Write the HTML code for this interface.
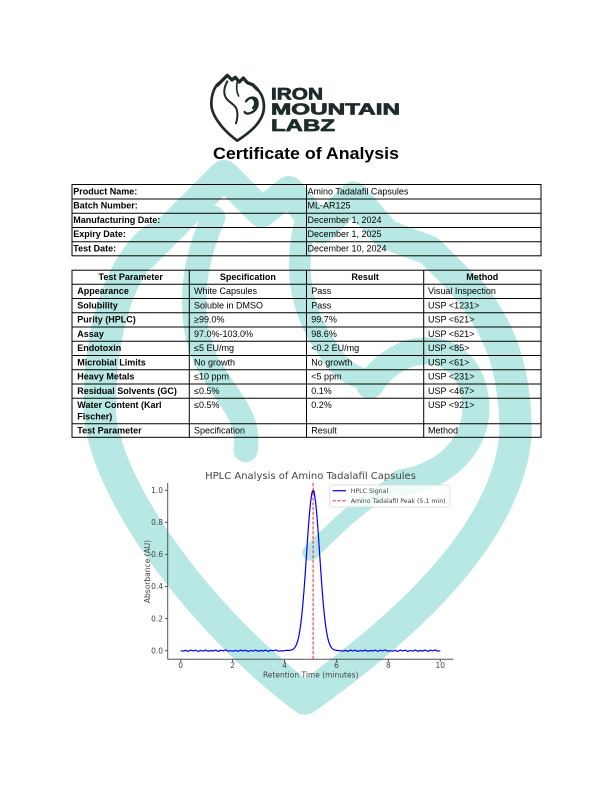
<!DOCTYPE html>
<html>
<head>
<meta charset="utf-8">
<style>
  html,body{margin:0;padding:0;background:#fff;}
  svg{display:block;}
  .t{font-family:"Liberation Sans",Arial,sans-serif;font-size:9px;fill:#000;}
  .b{font-weight:bold;}
  .c{font-family:"DejaVu Sans","Liberation Sans",sans-serif;fill:#444;}
</style>
</head>
<body>
<svg width="612" height="792" viewBox="0 0 612 792" xmlns="http://www.w3.org/2000/svg">
  <rect width="612" height="792" fill="#fff"/>

  <!-- Watermark (large icon) -->
  <g transform="translate(35,131.5) scale(2.7)" fill="none" stroke="#b8e8e3" stroke-linecap="round" stroke-linejoin="round">
    <path d="M44,40 C32,50 24,72 24,102 C24,130 60,180 100,210 C135,185 175,150 178,112 C178,88 172,72 160,58" stroke-width="12"/>
    <path d="M40,46 L70,16 L84,30 L94,22 L106,36 L118,24 L130,38 L146,44 L160,58" stroke-width="11"/>
    <path d="M66,32 C58,50 56,70 64,86 C72,100 80,106 78,118" stroke-width="9"/>
    <path d="M100,34 C96,50 98,66 108,80 C114,90 120,92 126,92" stroke-width="8"/>
    <path d="M124,94 C134,78 156,76 162,94 C168,114 152,128 136,130" stroke-width="10"/>
    <path d="M136,130 C124,134 112,146 102,156" stroke-width="6"/>
  </g>

  <!-- Logo icon -->
  <g transform="translate(204,70) scale(0.3333)" fill="none" stroke="#1f2a2a" stroke-linecap="round" stroke-linejoin="round">
    <path d="M44,40 C32,50 22,72 22,102 C22,135 55,180 100,212 C140,186 178,155 180,112 C180,88 174,72 160,58" stroke-width="8"/>
    <path d="M40,46 L70,16 L84,30 L94,22 L106,36 L118,24 L130,38 L146,44 L160,58" stroke-width="10"/>
    <path d="M70,34 C60,52 58,70 66,84 C76,98 94,104 98,118 C102,132 100,148 96,160" stroke-width="6"/>
    <path d="M100,36 C96,52 98,66 104,78" stroke-width="5"/>
    <path d="M126,94 C136,80 156,78 160,94 C164,112 152,126 136,130 C128,132 124,130 122,126" stroke-width="7"/>
    <path d="M148,86 C156,92 156,106 148,114" stroke-width="8"/>
  </g>

  <!-- Logo text -->
  <g font-family="'Liberation Sans',Arial,sans-serif" font-weight="bold" fill="#1f2a2a" stroke="#1f2a2a" stroke-width="0.7">
    <text x="271" y="99.3" font-size="16.5" textLength="52" lengthAdjust="spacingAndGlyphs">IRON</text>
    <text x="271" y="114.5" font-size="15.5" textLength="129" lengthAdjust="spacingAndGlyphs">MOUNTAIN</text>
    <text x="271" y="131" font-size="17" textLength="64" lengthAdjust="spacingAndGlyphs">LABZ</text>
  </g>

  <!-- Title -->
  <text x="306" y="159" text-anchor="middle" font-family="'Liberation Sans',Arial,sans-serif" font-weight="bold" font-size="17" fill="#000" textLength="186" lengthAdjust="spacingAndGlyphs">Certificate of Analysis</text>

  <!-- Table 1 -->
  <g stroke="#000" stroke-width="1" fill="none">
    <rect x="72" y="184.5" width="469" height="71.3"/>
    <line x1="72" y1="199" x2="541" y2="199"/>
    <line x1="72" y1="213.3" x2="541" y2="213.3"/>
    <line x1="72" y1="227.5" x2="541" y2="227.5"/>
    <line x1="72" y1="241.7" x2="541" y2="241.7"/>
    <line x1="306.5" y1="184.5" x2="306.5" y2="255.8"/>
  </g>
  <g class="t">
    <text class="t b" x="73.3" y="194.3">Product Name:</text>
    <text class="t b" x="73.3" y="208.6">Batch Number:</text>
    <text class="t b" x="73.3" y="222.9">Manufacturing Date:</text>
    <text class="t b" x="73.3" y="237.1">Expiry Date:</text>
    <text class="t b" x="73.3" y="251.4">Test Date:</text>
    <text class="t" x="307.5" y="194.3">Amino Tadalafil Capsules</text>
    <text class="t" x="307.5" y="208.6">ML-AR125</text>
    <text class="t" x="307.5" y="222.9">December 1, 2024</text>
    <text class="t" x="307.5" y="237.1">December 1, 2025</text>
    <text class="t" x="307.5" y="251.4">December 10, 2024</text>
  </g>

  <!-- Table 2 -->
  <g stroke="#000" stroke-width="1" fill="none">
    <rect x="72" y="270.2" width="469" height="167.1"/>
    <line x1="72" y1="284.2" x2="541" y2="284.2"/>
    <line x1="72" y1="298.5" x2="541" y2="298.5"/>
    <line x1="72" y1="312.7" x2="541" y2="312.7"/>
    <line x1="72" y1="327" x2="541" y2="327"/>
    <line x1="72" y1="341.2" x2="541" y2="341.2"/>
    <line x1="72" y1="355.5" x2="541" y2="355.5"/>
    <line x1="72" y1="369.8" x2="541" y2="369.8"/>
    <line x1="72" y1="384" x2="541" y2="384"/>
    <line x1="72" y1="398.3" x2="541" y2="398.3"/>
    <line x1="72" y1="423.8" x2="541" y2="423.8"/>
    <line x1="189.3" y1="270.2" x2="189.3" y2="437.3"/>
    <line x1="306.5" y1="270.2" x2="306.5" y2="437.3"/>
    <line x1="423.7" y1="270.2" x2="423.7" y2="437.3"/>
  </g>
  <g>
    <text class="t b" x="130.7" y="280" text-anchor="middle">Test Parameter</text>
    <text class="t b" x="247.9" y="280" text-anchor="middle">Specification</text>
    <text class="t b" x="365.1" y="280" text-anchor="middle">Result</text>
    <text class="t b" x="482.3" y="280" text-anchor="middle">Method</text>

    <text class="t b" x="77.3" y="294">Appearance</text>
    <text class="t" x="194" y="294">White Capsules</text>
    <text class="t" x="311.3" y="294">Pass</text>
    <text class="t" x="428" y="294">Visual Inspection</text>

    <text class="t b" x="77.3" y="308.3">Solubility</text>
    <text class="t" x="194" y="308.3">Soluble in DMSO</text>
    <text class="t" x="311.3" y="308.3">Pass</text>
    <text class="t" x="428" y="308.3">USP &lt;1231&gt;</text>

    <text class="t b" x="77.3" y="322.5">Purity (HPLC)</text>
    <text class="t" x="194" y="322.5">≥99.0%</text>
    <text class="t" x="311.3" y="322.5">99.7%</text>
    <text class="t" x="428" y="322.5">USP &lt;621&gt;</text>

    <text class="t b" x="77.3" y="336.8">Assay</text>
    <text class="t" x="194" y="336.8">97.0%-103.0%</text>
    <text class="t" x="311.3" y="336.8">98.6%</text>
    <text class="t" x="428" y="336.8">USP &lt;621&gt;</text>

    <text class="t b" x="77.3" y="351">Endotoxin</text>
    <text class="t" x="194" y="351">≤5 EU/mg</text>
    <text class="t" x="311.3" y="351">&lt;0.2 EU/mg</text>
    <text class="t" x="428" y="351">USP &lt;85&gt;</text>

    <text class="t b" x="77.3" y="365.3">Microbial Limits</text>
    <text class="t" x="194" y="365.3">No growth</text>
    <text class="t" x="311.3" y="365.3">No growth</text>
    <text class="t" x="428" y="365.3">USP &lt;61&gt;</text>

    <text class="t b" x="77.3" y="379.6">Heavy Metals</text>
    <text class="t" x="194" y="379.6">≤10 ppm</text>
    <text class="t" x="311.3" y="379.6">&lt;5 ppm</text>
    <text class="t" x="428" y="379.6">USP &lt;231&gt;</text>

    <text class="t b" x="77.3" y="393.8">Residual Solvents (GC)</text>
    <text class="t" x="194" y="393.8">≤0.5%</text>
    <text class="t" x="311.3" y="393.8">0.1%</text>
    <text class="t" x="428" y="393.8">USP &lt;467&gt;</text>

    <text class="t b" x="77.3" y="408.1">Water Content (Karl</text>
    <text class="t b" x="77.3" y="419.3">Fischer)</text>
    <text class="t" x="194" y="408.1">≤0.5%</text>
    <text class="t" x="311.3" y="408.1">0.2%</text>
    <text class="t" x="428" y="408.1">USP &lt;921&gt;</text>

    <text class="t b" x="77.3" y="433.4">Test Parameter</text>
    <text class="t" x="194" y="433.4">Specification</text>
    <text class="t" x="311.3" y="433.4">Result</text>
    <text class="t" x="428" y="433.4">Method</text>
  </g>

  <!-- Chart -->
  <text class="c" x="310.5" y="479" font-size="10" text-anchor="middle">HPLC Analysis of Amino Tadalafil Capsules</text>

  <!-- spines -->
  <g stroke="#555" stroke-width="1" fill="none">
    <line x1="167.7" y1="483" x2="167.7" y2="659.3"/>
    <line x1="167.7" y1="659.3" x2="453.3" y2="659.3"/>
    <!-- x ticks -->
    <line x1="180.7" y1="659.3" x2="180.7" y2="662"/>
    <line x1="232.6" y1="659.3" x2="232.6" y2="662"/>
    <line x1="284.5" y1="659.3" x2="284.5" y2="662"/>
    <line x1="336.5" y1="659.3" x2="336.5" y2="662"/>
    <line x1="388.4" y1="659.3" x2="388.4" y2="662"/>
    <line x1="440.3" y1="659.3" x2="440.3" y2="662"/>
    <!-- y ticks -->
    <line x1="165" y1="650.7" x2="167.7" y2="650.7"/>
    <line x1="165" y1="618.6" x2="167.7" y2="618.6"/>
    <line x1="165" y1="586.5" x2="167.7" y2="586.5"/>
    <line x1="165" y1="554.4" x2="167.7" y2="554.4"/>
    <line x1="165" y1="522.3" x2="167.7" y2="522.3"/>
    <line x1="165" y1="490.3" x2="167.7" y2="490.3"/>
  </g>
  <g class="c" font-size="7.5" text-anchor="middle">
    <text x="180.7" y="667.8">0</text>
    <text x="232.6" y="667.8">2</text>
    <text x="284.5" y="667.8">4</text>
    <text x="336.5" y="667.8">6</text>
    <text x="388.4" y="667.8">8</text>
    <text x="440.3" y="667.8">10</text>
  </g>
  <g class="c" font-size="7.5" text-anchor="end">
    <text x="163" y="653.4">0.0</text>
    <text x="163" y="621.3">0.2</text>
    <text x="163" y="589.2">0.4</text>
    <text x="163" y="557.1">0.6</text>
    <text x="163" y="525">0.8</text>
    <text x="163" y="493">1.0</text>
  </g>
  <text class="c" x="310.7" y="677.3" font-size="7.5" text-anchor="middle">Retention Time (minutes)</text>
  <text class="c" x="0" y="0" font-size="7.5" text-anchor="middle" transform="translate(149.8,571.5) rotate(-90)">Absorbance (AU)</text>

  <!-- signal -->
  <path fill="none" stroke="#0000ff" stroke-width="1.2" stroke-linejoin="round" d="M180.7,650.7
    l2.5,.5 2.5,-.9 2.5,1.1 2.5,-1.3 2.5,.8 2.5,-.7 2.5,1.3 2.5,-1.1 2.5,.7 2.5,-1.1 2.5,1.3 2.5,-.8 2.5,.5 2.5,-.9 2.5,1.3 2.5,-1.2 2.5,.6 2.5,-.9 2.5,1.3 2.5,-.5
    l2.5,.5 2.5,-.9 2.5,1.1 2.5,-1.3 2.5,.8 2.5,-.7 2.5,1.3 2.5,-1.1 2.5,.7 2.5,-1.1 2.5,1.3 2.5,-.8 2.5,.5 2.5,-.9 2.5,1.3 2.5,-1.2 2.5,.6 2.5,-.9 2.5,1.3 2.5,-.5
    L283,651.1 L286,650.3 L289.7,650.4 L292.3,649.7 L293.6,648.9 L294.9,647.5 L296.2,645.2 L297.5,641.7 L298.8,636.4 L300.1,629 L301.4,618.9 L302.7,606.1 L304,590.5 L305.3,572.6 L306.6,553.3 L307.9,534.2 L309.2,516.8 L310.5,502.7 L311.8,493.5 L312.5,490.8 L313.1,492 L313.7,490.3 L314.4,493.5 L315.7,502.7 L317,516.8 L318.3,534.2 L319.6,553.3 L320.9,572.6 L322.2,590.5 L323.5,606.1 L324.8,618.9 L326.1,629 L327.4,636.4 L328.7,641.7 L330,645.2 L331.3,647.5 L332.6,648.9 L333.9,649.7 L336.5,650.4 L340.3,650.7
    l2.5,.5 2.5,-.9 2.5,1.1 2.5,-1.3 2.5,.8 2.5,-.7 2.5,1.3 2.5,-1.1 2.5,.7 2.5,-1.1 2.5,1.3 2.5,-.8 2.5,.5 2.5,-.9 2.5,1.3 2.5,-1.2 2.5,.6 2.5,-.9 2.5,1.3 2.5,-.5
    l2.5,.5 2.5,-.9 2.5,1.1 2.5,-1.3 2.5,.8 2.5,-.7 2.5,1.3 2.5,-1.1 2.5,.7 2.5,-1.1 2.5,1.3 2.5,-.8 2.5,.5 2.5,-.9 2.5,1.3 2.5,-1.2 2.5,.6 2.5,-.9 2.5,1.3 2.5,-.5"/>

  <!-- peak marker -->
  <line x1="313.1" y1="483" x2="313.1" y2="659.3" stroke="#f02828" stroke-width="1" stroke-dasharray="3.2,1.6"/>

  <!-- legend -->
  <rect x="329.8" y="485" width="120.2" height="22" rx="2" ry="2" fill="#fff" fill-opacity="0.8" stroke="#d6d6d6" stroke-width="0.7"/>
  <line x1="332.7" y1="490.7" x2="346" y2="490.7" stroke="#0000ff" stroke-width="1.2"/>
  <line x1="332.7" y1="500.7" x2="346" y2="500.7" stroke="#f02828" stroke-width="1" stroke-dasharray="3.2,1.6"/>
  <text class="c" x="350.7" y="492.9" font-size="6.25">HPLC Signal</text>
  <text class="c" x="350.7" y="502.9" font-size="6.25">Amino Tadalafil Peak (5.1 min)</text>
</svg>
</body>
</html>
